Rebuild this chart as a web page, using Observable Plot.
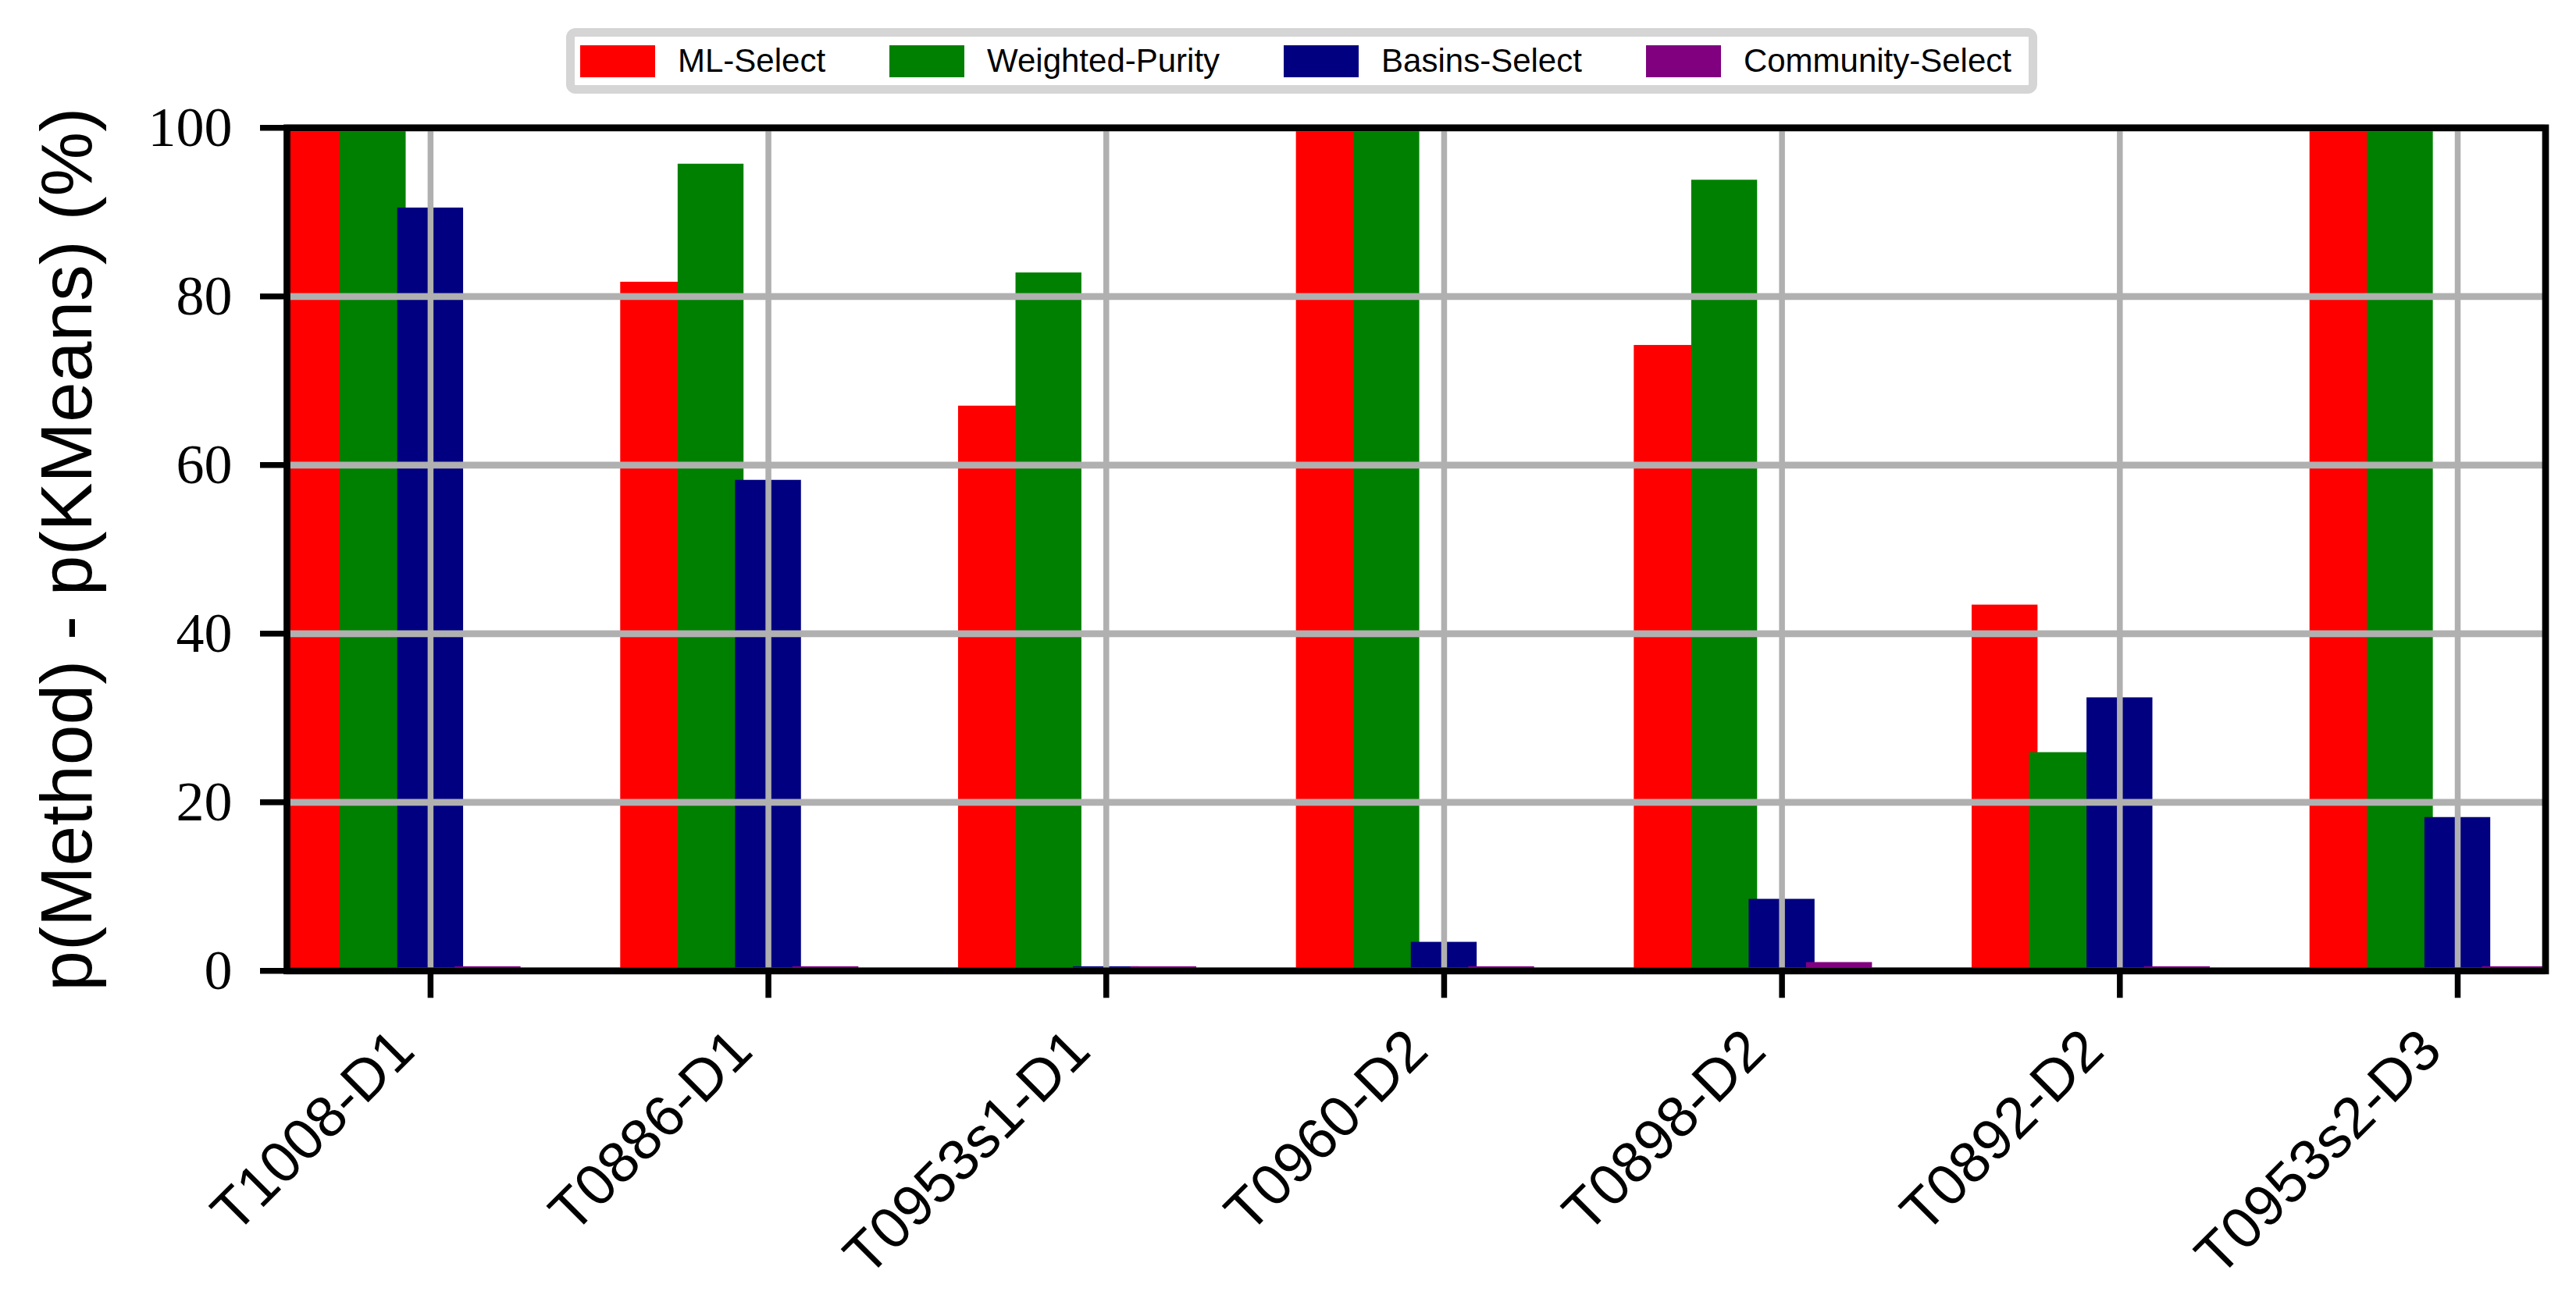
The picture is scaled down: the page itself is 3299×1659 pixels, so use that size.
<!DOCTYPE html>
<html><head><meta charset="utf-8">
<script src="https://cdn.jsdelivr.net/npm/d3@7"></script>
<script src="https://cdn.jsdelivr.net/npm/@observablehq/plot@0.6"></script>
<style>
html,body{margin:0;padding:0;background:#fff;}
#legend{position:relative;width:3299px;height:125px;}
#legend .box{position:absolute;left:725px;top:36px;width:1884px;height:84px;box-sizing:border-box;border:11px solid #d5d5d5;border-radius:12px;display:flex;align-items:center;padding-left:7px;font-family:"Liberation Sans";font-size:42px;color:#000;white-space:nowrap;}
#legend .item{display:flex;align-items:center;margin-right:82px;}
#legend .sw{width:96px;height:41px;margin-right:29px;}
#chart svg{display:block;}
</style></head><body>
<div id="legend"><div class="box"></div></div>
<div id="chart"></div>
<script>
const categories = ["T1008-D1","T0886-D1","T0953s1-D1","T0960-D2","T0898-D2","T0892-D2","T0953s2-D3"];
const methods = ["ML-Select","Weighted-Purity","Basins-Select","Community-Select"];
const colors = ["#ff0000","#008000","#000080","#800080"];
const mlSelect        = [100, 81.7, 67.0, 100, 74.2, 43.4, 100];
const weightedPurity  = [100, 95.7, 82.8, 100, 93.8, 25.9, 100];
const basinsSelect    = [90.5, 58.2, 0.5, 3.4, 8.5, 32.4, 18.2];
const communitySelect = [0.5, 0.5, 0.5, 0.5, 1.0, 0.5, 0.5];
const yTicks = [0, 20, 40, 60, 80, 100];
const yLabel = "p(Method) - p(KMeans) (%)";

const seriesValues = [mlSelect, weightedPurity, basinsSelect, communitySelect];
const offsetStep = 0.17;   // spacing of bar centres (category units)
const barWidth = 0.195;    // bar width (category units)

const rows = [];
seriesValues.forEach((vals, k) => {
  vals.forEach((v, i) => {
    const c = i + (k - 2) * offsetStep;
    rows.push({method: methods[k], category: categories[i], value: v, x1: c - barWidth / 2, x2: c + barWidth / 2});
  });
});

// legend
const box = document.querySelector("#legend .box");
methods.forEach((m, k) => {
  const it = document.createElement("div"); it.className = "item";
  const sw = document.createElement("div"); sw.className = "sw"; sw.style.background = colors[k];
  const tx = document.createElement("span"); tx.textContent = m;
  it.appendChild(sw); it.appendChild(tx); box.appendChild(it);
});

const idx = d3.range(categories.length);
const gridColor = "#b0b0b0";

const chart = Plot.plot({
  width: 3299,
  height: 1534,
  marginLeft: 367,
  marginRight: 39.5,
  marginTop: 38.3,
  marginBottom: 415.7,
  x: {type: "linear", domain: [-0.425, 6.26]},
  y: {domain: [0, 100]},
  color: {domain: methods, range: colors},
  style: {background: "white", overflow: "visible"},
  marks: [
    Plot.rectY(rows, {x1: "x1", x2: "x2", y1: 0, y2: "value", fill: "method", clip: true}),
    Plot.gridX({ticks: idx, stroke: gridColor, strokeOpacity: 1, strokeWidth: 7.5}),
    Plot.gridY({ticks: yTicks, stroke: gridColor, strokeOpacity: 1, strokeWidth: 8.7}),
    Plot.axisY({ticks: yTicks, tickSize: 34, tickPadding: 36, strokeWidth: 7.5, fontSize: 72, fontFamily: "Liberation Serif", label: null, tickFormat: d => String(d)}),
    Plot.axisX({ticks: idx, tickSize: 35, strokeWidth: 7.5, tickFormat: () => "", label: null}),
    Plot.axisX({ticks: idx, tickSize: 0, tickPadding: 89, dx: -34, tickRotate: -45, fontSize: 74, fontFamily: "Liberation Sans", label: null, tickFormat: i => categories[i]}),
    Plot.text([yLabel], {frameAnchor: "left", rotate: -90, dx: -280, lineAnchor: "middle", textAnchor: "middle", fontSize: 93, fontFamily: "Liberation Sans", fill: "black"}),
    Plot.frame({stroke: "black", strokeWidth: 8.7})
  ]
});
document.getElementById("chart").appendChild(chart);
</script>
</body></html>
